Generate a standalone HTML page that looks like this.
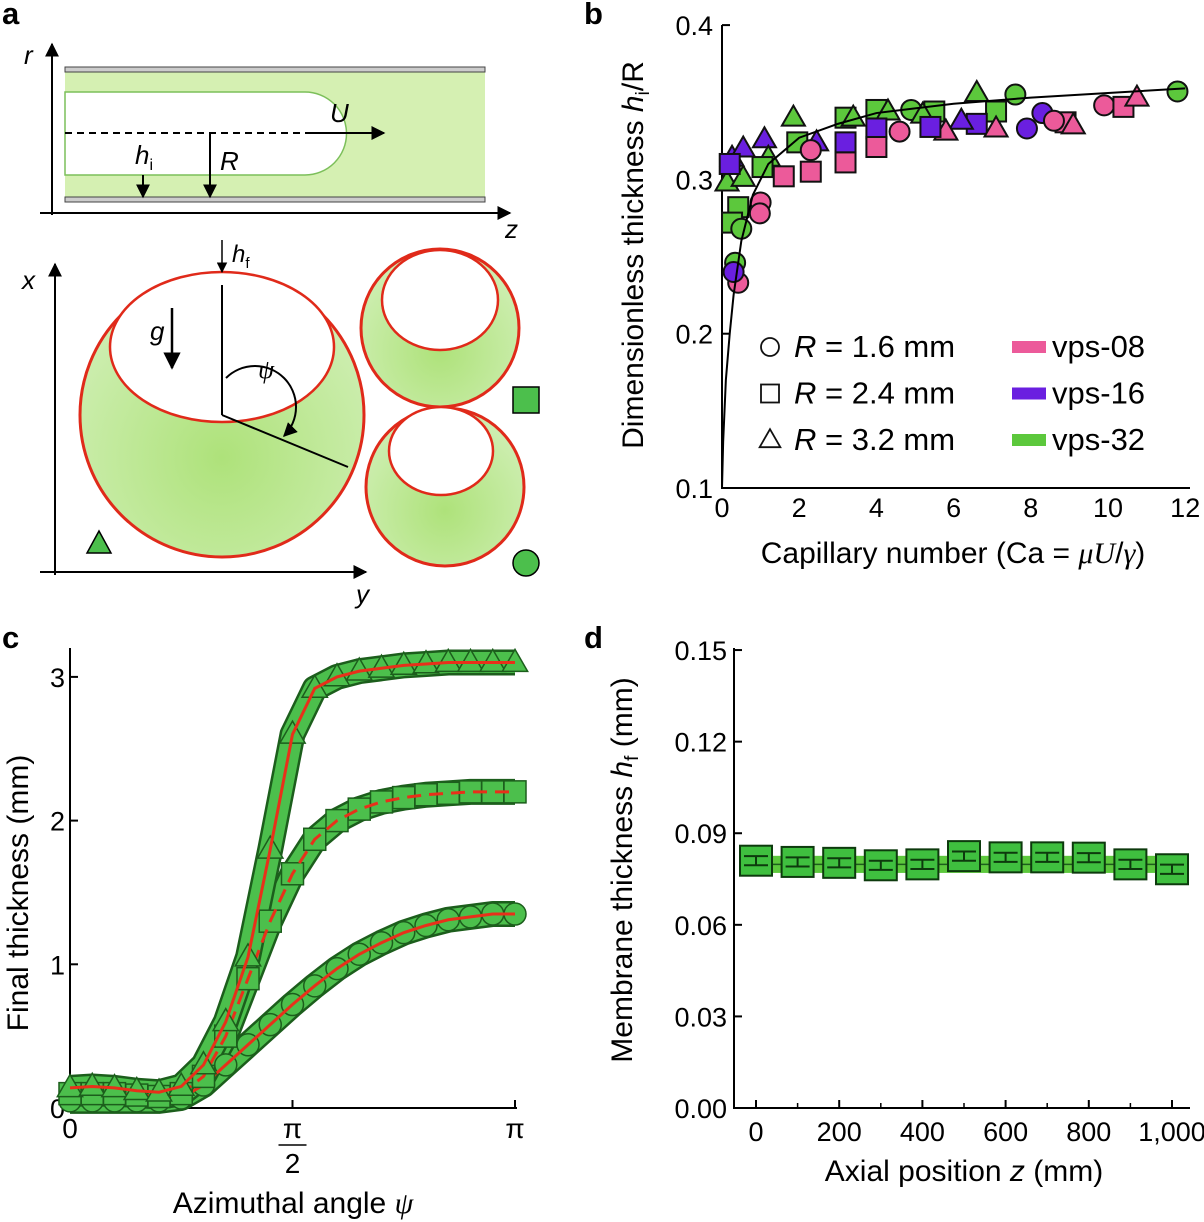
<!DOCTYPE html>
<html><head><meta charset="utf-8">
<style>
html,body{margin:0;padding:0;background:#fff;}
svg{display:block;font-family:"Liberation Sans",sans-serif;}
</style></head>
<body>
<svg id="fig" width="1204" height="1222" viewBox="0 0 1204 1222">
<defs>
<radialGradient id="gfill" cx="50%" cy="65%" r="60%">
<stop offset="0" stop-color="#aee27a"/><stop offset="1" stop-color="#cdeeb0"/>
</radialGradient>
<marker id="ah" viewBox="0 0 10 10" refX="9" refY="5" markerWidth="7" markerHeight="7" orient="auto"><path d="M0,0 L10,5 L0,10 z" fill="#000"/></marker>
</defs>

<!-- Panel a -->
<g>
<text x="2" y="24" font-size="31" font-weight="bold">a</text>
<line x1="52" y1="215" x2="52" y2="44" stroke="#000" stroke-width="2" marker-end="url(#ah)"/>
<line x1="40" y1="213" x2="510" y2="213" stroke="#000" stroke-width="2" marker-end="url(#ah)"/>
<text x="24" y="64" font-size="26" font-style="italic">r</text>
<text x="505" y="238" font-size="26" font-style="italic">z</text>
<rect x="65" y="72" width="420" height="126" fill="#d5f0b2"/>
<rect x="65" y="67" width="420" height="5" fill="#ccc" stroke="#444" stroke-width="1"/>
<rect x="65" y="197" width="420" height="5" fill="#ccc" stroke="#444" stroke-width="1"/>
<path d="M65,92 L305,92 A41,41 0 0 1 305,175 L65,175 Z" fill="#fff" stroke="#7cbf5a" stroke-width="1.5"/>
<line x1="65" y1="133" x2="346" y2="133" stroke="#000" stroke-width="2" stroke-dasharray="7,5"/>
<line x1="310" y1="133" x2="384" y2="133" stroke="#000" stroke-width="2" marker-end="url(#ah)"/>
<text x="330" y="122" font-size="26" font-style="italic">U</text>
<line x1="143" y1="175" x2="143" y2="197" stroke="#000" stroke-width="2" marker-end="url(#ah)"/>
<text x="135" y="164" font-size="26" font-style="italic">h<tspan font-size="16" font-style="normal" dy="6">i</tspan></text>
<line x1="210" y1="133" x2="210" y2="197" stroke="#000" stroke-width="2" marker-end="url(#ah)"/>
<text x="220" y="170" font-size="26" font-style="italic">R</text>

<line x1="55" y1="575" x2="55" y2="264" stroke="#000" stroke-width="2" marker-end="url(#ah)"/>
<line x1="40" y1="572" x2="366" y2="572" stroke="#000" stroke-width="2" marker-end="url(#ah)"/>
<text x="22" y="289" font-size="26" font-style="italic">x</text>
<text x="356" y="603" font-size="26" font-style="italic">y</text>

<circle cx="222" cy="415" r="142" fill="url(#gfill)" stroke="#e02a1a" stroke-width="3"/>
<ellipse cx="222" cy="347" rx="112" ry="75" fill="#fff" stroke="#e02a1a" stroke-width="2.5"/>
<line x1="222" y1="240" x2="222" y2="272" stroke="#000" stroke-width="1.5" marker-end="url(#ah)"/>
<text x="232" y="262" font-size="24" font-style="italic">h<tspan font-size="15" font-style="normal" dy="6">f</tspan></text>
<line x1="222" y1="285" x2="222" y2="415" stroke="#000" stroke-width="2"/>
<line x1="222" y1="415" x2="348" y2="467" stroke="#000" stroke-width="2"/>
<path d="M226,378 A40,40 0 0 1 284,436" fill="none" stroke="#000" stroke-width="2" marker-end="url(#ah)"/>
<text x="258" y="378" font-size="26" font-style="italic" font-family="Liberation Serif,serif">ψ</text>
<line x1="172" y1="308" x2="172" y2="368" stroke="#000" stroke-width="2.5" marker-end="url(#ah)"/>
<text x="150" y="340" font-size="26" font-style="italic">g</text>

<circle cx="440" cy="328" r="79" fill="url(#gfill)" stroke="#e02a1a" stroke-width="3"/>
<ellipse cx="440" cy="300" rx="58" ry="50" fill="#fff" stroke="#e02a1a" stroke-width="2.5"/>
<circle cx="445" cy="487" r="79" fill="url(#gfill)" stroke="#e02a1a" stroke-width="3"/>
<ellipse cx="441" cy="451" rx="52" ry="44" fill="#fff" stroke="#e02a1a" stroke-width="2.5"/>
<polygon points="99,531 111,553 87,553" fill="#4cbf4c" stroke="#000" stroke-width="1.5"/>
<rect x="513" y="387" width="26" height="26" fill="#4cbf4c" stroke="#000" stroke-width="1.5"/>
<circle cx="526" cy="563" r="13" fill="#4cbf4c" stroke="#000" stroke-width="1.5"/>
</g>

<g id="pb">
<text x="584" y="24" font-size="31" font-weight="bold">b</text>
</g>
<g id="pc">
<text x="2" y="648" font-size="31" font-weight="bold">c</text>
</g>
<g id="pd">
<text x="584" y="648" font-size="31" font-weight="bold">d</text>
</g>
</svg>
<script>
const NS="http://www.w3.org/2000/svg";
function mk(parent,tag,attrs,text){const e=document.createElementNS(NS,tag);for(const k in attrs)e.setAttribute(k,attrs[k]);if(text!==undefined)e.textContent=text;parent.appendChild(e);return e;}

// ---------- Panel b data ----------
const bCa=[11.8,9.9,10.4,10.75,6.6,7.6,7.1,8.3,7.9,8.9,9.1,8.6,6.6,6.2,5.8,7.1,5.5,4.9,5.2,5.4,4.6,4.0,4.3,4.0,4.0,3.2,3.4,3.2,3.2,1.95,1.85,2.3,1.6,2.45,2.3,1.1,1.2,1.05,1.0,0.98,0.42,0.26,0.5,0.34,0.42,0.26,0.13,0.55,0.55,0.3,0.2];
const bH=[0.357,0.348,0.347,0.353,0.356,0.355,0.344,0.343,0.333,0.337,0.335,0.338,0.336,0.338,0.331,0.333,0.344,0.345,0.342,0.334,0.331,0.345,0.344,0.333,0.321,0.340,0.340,0.324,0.311,0.324,0.340,0.305,0.302,0.324,0.319,0.326,0.314,0.308,0.285,0.278,0.282,0.272,0.268,0.246,0.233,0.314,0.298,0.301,0.32,0.24,0.31];
const bShape=["c","c","s","t","t","c","s","c","c","s","t","c","s","t","t","t","s","c","t","s","c","s","t","s","s","s","t","s","s","s","t","s","s","t","c","t","t","s","c","c","s","s","c","c","c","t","t","t","t","c","s"];
const bFluid=["32","08","08","08","32","32","32","16","16","08","08","08","16","16","08","08","32","32","32","16","08","32","32","16","08","32","32","16","08","32","32","08","08","16","08","16","32","32","08","08","32","32","32","32","08","16","32","32","16","16","16"];
const fitCa=[0,0.03,0.1,0.2,0.3,0.5,0.8,1.2,2,3,4,6,8,10,12];
const fitH=[0.1,0.13,0.17,0.2,0.225,0.26,0.29,0.31,0.327,0.336,0.343,0.349,0.353,0.356,0.359];
const bYTicks=[0.1,0.2,0.3,0.4];
const bXTicks=[0,2,4,6,8,10,12];
const fluidColor={"08":"#ec5a9a","16":"#6a1fe0","32":"#5cc83c"};

const bx=v=>722+v*38.6, by=v=>488-(v-0.1)*1543;
const pb=document.getElementById('pb');
let e;
e=mk(pb,'line',{x1:722,y1:25,x2:722,y2:488,stroke:'#000','stroke-width':2});


e=mk(pb,'line',{x1:721,y1:488,x2:1190,y2:488,stroke:'#000','stroke-width':2});


bYTicks.forEach(t=>{
 e=mk(pb,'text',{x:713,y:by(t)+10,'font-size':27,'text-anchor':'end'},t.toFixed(1));
 
 
 mk(pb,'line',{x1:722,y1:by(t),x2:730,y2:by(t),stroke:'#000','stroke-width':2});
});
bXTicks.forEach(t=>{
 e=mk(pb,'text',{x:bx(t),y:517,'font-size':27,'text-anchor':'middle'},String(t));
 
 
});
function marker(g,shape,x,y,s,fill){
 let m;
 if(shape==='c') m=mk(g,'circle',{cx:x,cy:y,r:s,fill:fill,stroke:'#111','stroke-width':2});
 else if(shape==='s') m=mk(g,'rect',{x:x-s,y:y-s,width:2*s,height:2*s,fill:fill,stroke:'#111','stroke-width':2});
 else m=mk(g,'polygon',{points:`${x},${y-s*1.2} ${x+s*1.15},${y+s*0.8} ${x-s*1.15},${y+s*0.8}`,fill:fill,stroke:'#111','stroke-width':2});
 return m;
}
bCa.forEach((c,i)=>{
 const m=marker(pb,bShape[i],bx(c),by(bH[i]),10,fluidColor[bFluid[i]]);
 
 
});
e=mk(pb,'polyline',{points:fitCa.map((c,i)=>bx(c)+','+by(fitH[i])).join(' '),fill:'none',stroke:'#000','stroke-width':2});


const legR=["1.6","2.4","3.2"], legS=["c","s","t"], legF=["08","16","32"];
legR.forEach((r,i)=>{
 const y=347+i*46.5;
 const m=marker(pb,legS[i],770,y,9,'#fff');
 m.setAttribute('stroke-width','1.8');
 
 
 e=mk(pb,'text',{x:794,y:y+10,'font-size':31});
 e.innerHTML='<tspan font-style="italic">R</tspan> = '+r+' mm';
 
 
 e=mk(pb,'rect',{x:1012,y:y-6,width:34,height:12,fill:fluidColor[legF[i]]});
 
 
 e=mk(pb,'text',{x:1052,y:y+10,'font-size':31},'vps-'+legF[i]);
 
 
});
e=mk(pb,'text',{x:953,y:563,'font-size':30,'text-anchor':'middle'});
e.innerHTML='Capillary number (Ca = <tspan font-style="italic" font-family="Liberation Serif,serif">μU</tspan>/<tspan font-style="italic" font-family="Liberation Serif,serif">γ</tspan>)';


e=mk(pb,'text',{transform:'translate(643,255) rotate(-90)','font-size':30,'text-anchor':'middle'});
e.innerHTML='Dimensionless thickness <tspan font-style="italic">h</tspan><tspan font-size="19" dy="6">i</tspan><tspan dy="-6">/R</tspan>';



// ---------- Panel c data ----------
const cPsi=[0,0.05,0.1,0.15,0.2,0.25,0.3,0.35,0.4,0.45,0.5,0.55,0.6,0.65,0.7,0.75,0.8,0.85,0.9,0.95,1];
const cTri=[0.14,0.15,0.14,0.12,0.11,0.15,0.3,0.6,1.05,1.8,2.6,2.92,3.0,3.04,3.06,3.08,3.09,3.1,3.1,3.1,3.1];
const cSq=[0.1,0.1,0.1,0.09,0.08,0.1,0.22,0.5,0.9,1.3,1.63,1.87,2.0,2.08,2.13,2.16,2.18,2.19,2.2,2.2,2.2];
const cCirc=[0.05,0.05,0.05,0.05,0.05,0.07,0.16,0.3,0.44,0.58,0.72,0.85,0.97,1.07,1.15,1.22,1.27,1.31,1.33,1.35,1.35];
const cYTicks=[0,1,2,3];
const cx=v=>70+v*445, cy=v=>1108-v*143.7;
const pc=document.getElementById('pc');
e=mk(pc,'line',{x1:70,y1:648,x2:70,y2:1109,stroke:'#000','stroke-width':2});


e=mk(pc,'line',{x1:69,y1:1108,x2:517,y2:1108,stroke:'#000','stroke-width':2});


mk(pc,'line',{x1:cx(0.5),y1:1108,x2:cx(0.5),y2:1100,stroke:'#000','stroke-width':2});
mk(pc,'line',{x1:cx(1),y1:1108,x2:cx(1),y2:1100,stroke:'#000','stroke-width':2});
cYTicks.forEach(t=>{
 mk(pc,'line',{x1:70,y1:cy(t),x2:78,y2:cy(t),stroke:'#000','stroke-width':2});
 e=mk(pc,'text',{x:65,y:cy(t)+10,'font-size':27,'text-anchor':'end'},String(t));
 
 
});
[[0,'0'],[1,'π']].forEach(([v,l])=>{
 e=mk(pc,'text',{x:cx(v),y:1138,'font-size':28,'text-anchor':'middle'},l);
 
 
});
e=mk(pc,'text',{x:cx(0.5),y:1138,'font-size':28,'text-anchor':'middle'},'π');


mk(pc,'line',{x1:cx(0.5)-14,y1:1145,x2:cx(0.5)+14,y2:1145,stroke:'#000','stroke-width':1.5});
mk(pc,'text',{x:cx(0.5),y:1173,'font-size':28,'text-anchor':'middle'},'2');
const cSeries=[[cCirc,'c','circle'],[cSq,'s','square'],[cTri,'t','triangle']];
cSeries.forEach(([vals,shape,nm])=>{
 const pts=cPsi.map((p,i)=>cx(p)+','+cy(vals[i])).join(' ');
 e=mk(pc,'polyline',{points:pts,fill:'none',stroke:'#1c5e1c','stroke-width':26,'stroke-linejoin':'round'});
 
 
 mk(pc,'polyline',{points:pts,fill:'none',stroke:'#4cbf4c','stroke-width':21,'stroke-linejoin':'round'});
});
cSeries.forEach(([vals,shape,nm])=>{
 cPsi.forEach((p,i)=>{
  const m=marker(pc,shape,cx(p),cy(vals[i]),11,'#4cbf4c');
  m.setAttribute('stroke','#1c5e1c');
  m.setAttribute('stroke-width','1.5');
  
  
 });
 e=mk(pc,'polyline',{points:cPsi.map((p,i)=>cx(p)+','+cy(vals[i])).join(' '),fill:'none',stroke:'#e8301a','stroke-width':3,'stroke-dasharray':shape==='s'?'14,8':'none'});
 
 
});
e=mk(pc,'text',{x:293,y:1213,'font-size':30,'text-anchor':'middle'});
e.innerHTML='Azimuthal angle <tspan font-style="italic" font-family="Liberation Serif,serif">ψ</tspan>';


e=mk(pc,'text',{transform:'translate(28,893) rotate(-90)','font-size':30,'text-anchor':'middle'},'Final thickness (mm)');



// ---------- Panel d data ----------
const dZ=[0,100,200,300,400,500,600,700,800,900,1000];
const dH=[0.0810,0.0806,0.0803,0.0795,0.0798,0.0825,0.0821,0.0821,0.0820,0.0798,0.0782];
const dErr=[0.0015,0.0015,0.0015,0.0015,0.0015,0.0015,0.0015,0.0015,0.0015,0.0015,0.0015];
const dBandMean=0.0798, dBandHalf=0.0028;
const dYTicks=[0,0.03,0.06,0.09,0.12,0.15];
const dXTicks=[0,200,400,600,800,1000];
const dMinor=[100,300,500,700,900];
const dx=v=>756+v*0.416, dy=v=>1108-v*3053;
const pd=document.getElementById('pd');
e=mk(pd,'line',{x1:734,y1:648,x2:734,y2:1109,stroke:'#000','stroke-width':2});


e=mk(pd,'line',{x1:733,y1:1108,x2:1190,y2:1108,stroke:'#000','stroke-width':2});


dYTicks.forEach(t=>{
 mk(pd,'line',{x1:734,y1:dy(t),x2:742,y2:dy(t),stroke:'#000','stroke-width':2});
 e=mk(pd,'text',{x:727,y:dy(t)+10,'font-size':27,'text-anchor':'end'},t.toFixed(2));
 
 
});
dXTicks.forEach(t=>{
 mk(pd,'line',{x1:dx(t),y1:1108,x2:dx(t),y2:1100,stroke:'#000','stroke-width':2});
 e=mk(pd,'text',{x:dx(t),y:1141,'font-size':27,'text-anchor':'middle'},t===1000?'1,000':String(t));
 
 
});
dMinor.forEach(t=>mk(pd,'line',{x1:dx(t),y1:1108,x2:dx(t),y2:1103,stroke:'#000','stroke-width':1.5}));
e=mk(pd,'rect',{x:dx(-20),y:dy(dBandMean+dBandHalf),width:dx(1030)-dx(-20),height:dy(dBandMean-dBandHalf)-dy(dBandMean+dBandHalf),fill:'#5cc83c'});


e=mk(pd,'line',{x1:dx(-20),y1:dy(dBandMean),x2:dx(1030),y2:dy(dBandMean),stroke:'#1c5e1c','stroke-width':1.5});


dZ.forEach((z,i)=>{
 const x=dx(z),y=dy(dH[i]);
 const m=mk(pd,'rect',{x:x-16,y:y-15,width:32,height:30,fill:'#3fbf3f',stroke:'#0d3a0d','stroke-width':2});
 
 
 const y1=dy(dH[i]+dErr[i]),y2=dy(dH[i]-dErr[i]);
 mk(pd,'line',{x1:x,y1:y1,x2:x,y2:y2,stroke:'#0d3a0d','stroke-width':2});
 mk(pd,'line',{x1:x-12,y1:y1,x2:x+12,y2:y1,stroke:'#0d3a0d','stroke-width':2});
 mk(pd,'line',{x1:x-12,y1:y2,x2:x+12,y2:y2,stroke:'#0d3a0d','stroke-width':2});
});
e=mk(pd,'text',{x:964,y:1181,'font-size':30,'text-anchor':'middle'});
e.innerHTML='Axial position <tspan font-style="italic">z</tspan> (mm)';


e=mk(pd,'text',{transform:'translate(632,870) rotate(-90)','font-size':30,'text-anchor':'middle'});
e.innerHTML='Membrane thickness <tspan font-style="italic">h</tspan><tspan font-size="19" dy="6">f</tspan><tspan dy="-6"> (mm)</tspan>';


</script>
</body></html>
